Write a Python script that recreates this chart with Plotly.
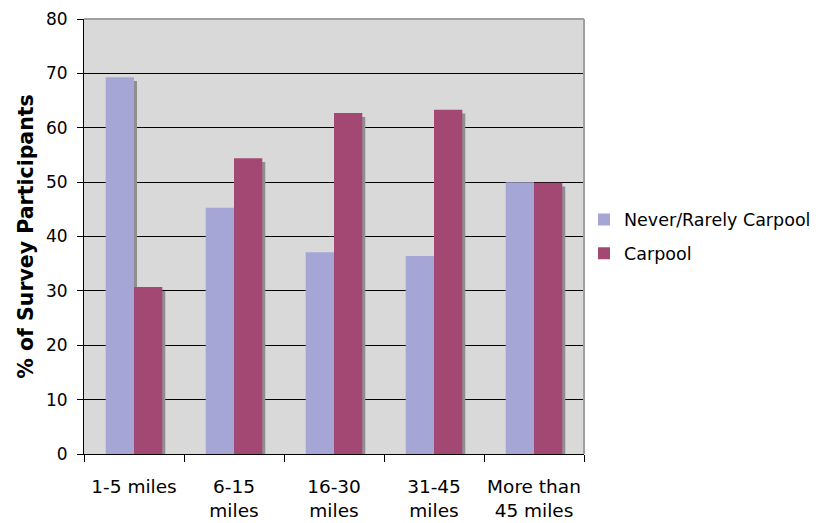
import plotly.graph_objects as go

categories = ["1-5 miles", "6-15<br>miles", "16-30<br>miles", "31-45<br>miles", "More than<br>45 miles"]
never_rarely = [69.3, 45.3, 37.1, 36.4, 50.0]
carpool = [30.7, 54.4, 62.7, 63.3, 49.9]
series_names = ["Never/Rarely Carpool", "Carpool"]
y_ticks = [0, 10, 20, 30, 40, 50, 60, 70, 80]

col_never = "#a6a6d6"
col_carpool = "#a24872"
col_shadow = "#8f8f8f"
FONT = "DejaVu Sans"

bw = 0.283
sh_dx = 0.03
sh_dy = 0.7

fig = go.Figure()
# shadows
for vals, off in ((never_rarely, -bw), (carpool, 0.0)):
    fig.add_trace(go.Bar(
        x=categories, y=[v - sh_dy for v in vals], width=bw, offset=off + sh_dx,
        marker=dict(color=col_shadow, line=dict(width=0)),
        showlegend=False, hoverinfo="skip"))
fig.add_trace(go.Bar(
    x=categories, y=never_rarely, width=bw, offset=-bw, name=series_names[0],
    marker=dict(color=col_never, line=dict(width=0)), legendgroup="a"))
fig.add_trace(go.Bar(
    x=categories, y=carpool, width=bw, offset=0.0, name=series_names[1],
    marker=dict(color=col_carpool, line=dict(width=0)), legendgroup="b"))

fig.update_layout(
    width=819, height=523,
    margin=dict(l=84, r=235, t=19, b=69, autoexpand=False),
    barmode="overlay",
    paper_bgcolor="white",
    plot_bgcolor="#d9d9d9",
    font=dict(family=FONT, size=17, color="black"),
    legend=dict(x=1.0, xref="paper", y=0.5, yref="paper", xanchor="left", yanchor="middle",
                font=dict(size=17.5), tracegroupgap=8, bgcolor="rgba(0,0,0,0)"),
    shapes=[
        dict(type="line", xref="paper", yref="paper", x0=0, x1=1, y0=1, y1=1,
             line=dict(color="#a0a0a0", width=2), layer="above"),
        dict(type="line", xref="paper", yref="paper", x0=1, x1=1, y0=0, y1=1,
             line=dict(color="#a0a0a0", width=2), layer="above"),
    ],
)
fig.update_xaxes(
    type="category", tickson="boundaries", ticks="outside", ticklen=7,
    tickcolor="black", showline=True, linecolor="black", linewidth=1,
    showgrid=False, tickangle=0, tickfont=dict(size=18.5, family=FONT), ticklabelstandoff=16)
fig.update_yaxes(
    range=[0, 80], tickvals=y_ticks, ticks="outside", ticklen=6,
    tickcolor="black", showline=True, linecolor="black", linewidth=1,
    showgrid=True, gridcolor="black", gridwidth=1, zeroline=False,
    tickfont=dict(size=17, family=FONT), ticklabelstandoff=6,
    title=dict(text="<b>% of Survey Participants</b>", font=dict(size=20.5, family=FONT), standoff=6))

fig.write_html("out.html")
